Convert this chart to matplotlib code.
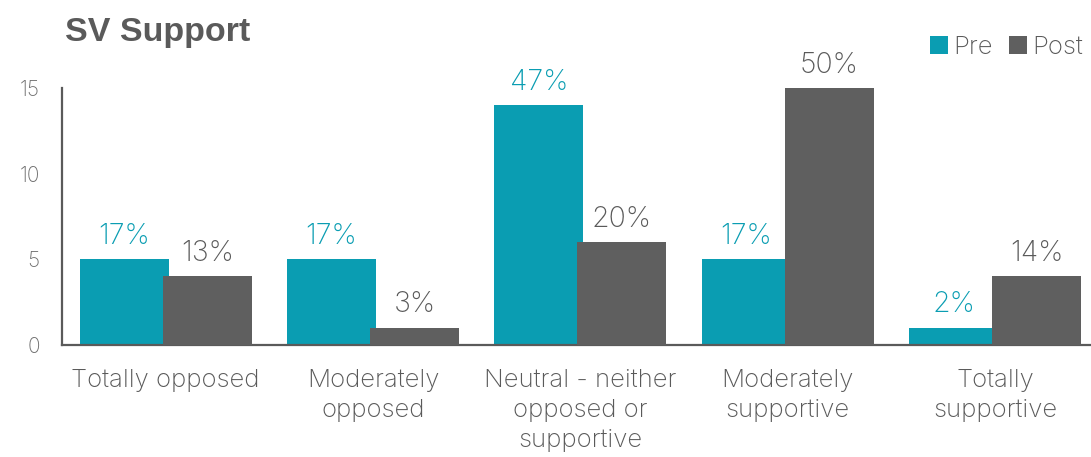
import matplotlib
matplotlib.use("Agg")
import matplotlib.pyplot as plt
import numpy as np

categories = ["Totally opposed", "Moderately\nopposed", "Neutral - neither\nopposed or\nsupportive",
              "Moderately\nsupportive", "Totally\nsupportive"]
pre_values = [5, 5, 14, 5, 1]
post_values = [4, 1, 6, 15, 4]
pre_labels = ["17%", "17%", "47%", "17%", "2%"]
post_labels = ["13%", "3%", "20%", "50%", "14%"]
yticks = [0, 5, 10, 15]

TEAL = "#0a9db2"
GRAY = "#5f5f5f"
TXT = "#5a5a5a"
LBL = dict(family=["Inter", "DejaVu Sans"], weight="light")

plt.rcParams['font.family'] = ['Inter', 'DejaVu Sans']

fig = plt.figure(figsize=(10.91, 4.57), dpi=100)
ax = fig.add_axes([62/1091, 1-345/457, (1098.7-62)/1091, (345-88)/457])

x = np.arange(len(categories))
w = 0.43
off = 0.2
ax.bar(x - off, pre_values, w, color=TEAL, label="Pre", zorder=2)
ax.bar(x + off, post_values, w, color=GRAY, label="Post", zorder=3)

for xi, v, t in zip(x, pre_values, pre_labels):
    ax.text(xi - off, v + 0.9, t, ha="center", va="baseline", color=TEAL, fontsize=20.5, **LBL)
for xi, v, t in zip(x, post_values, post_labels):
    ax.text(xi + off, v + 0.9, t, ha="center", va="baseline", color=TXT, fontsize=20.5, **LBL)

ax.set_xlim(-0.5, 4.5)
ax.set_ylim(0, 15)
ax.set_yticks(yticks)
ax.set_yticklabels([str(t) for t in yticks], fontsize=15, color="#707070", **LBL)
ax.set_xticks(x)
ax.set_xticklabels(categories, fontsize=18.5, color=TXT, linespacing=1.4, **LBL)
ax.tick_params(axis="both", length=0)
ax.tick_params(axis="y", pad=16)
ax.tick_params(axis="x", pad=17)
for s in ["top", "right"]:
    ax.spines[s].set_visible(False)
for s in ["left", "bottom"]:
    ax.spines[s].set_color(TXT)
    ax.spines[s].set_linewidth(1.6)

fig.text(65/1091, 1-32/457, "SV Support", fontsize=24.5, fontweight="bold", color=TXT,
         ha="left", va="center", family=["Liberation Sans", "DejaVu Sans"])

fig.legend(loc="center left", bbox_to_anchor=(930/1091, 1-47/457), ncol=2, frameon=False,
           prop=dict(family="Inter", weight="light", size=18.5),
           handlelength=0.7, handleheight=0.7, handletextpad=0.2,
           columnspacing=0.65, labelcolor=TXT, borderaxespad=0, borderpad=0)

fig.savefig("out.png", dpi=100)
